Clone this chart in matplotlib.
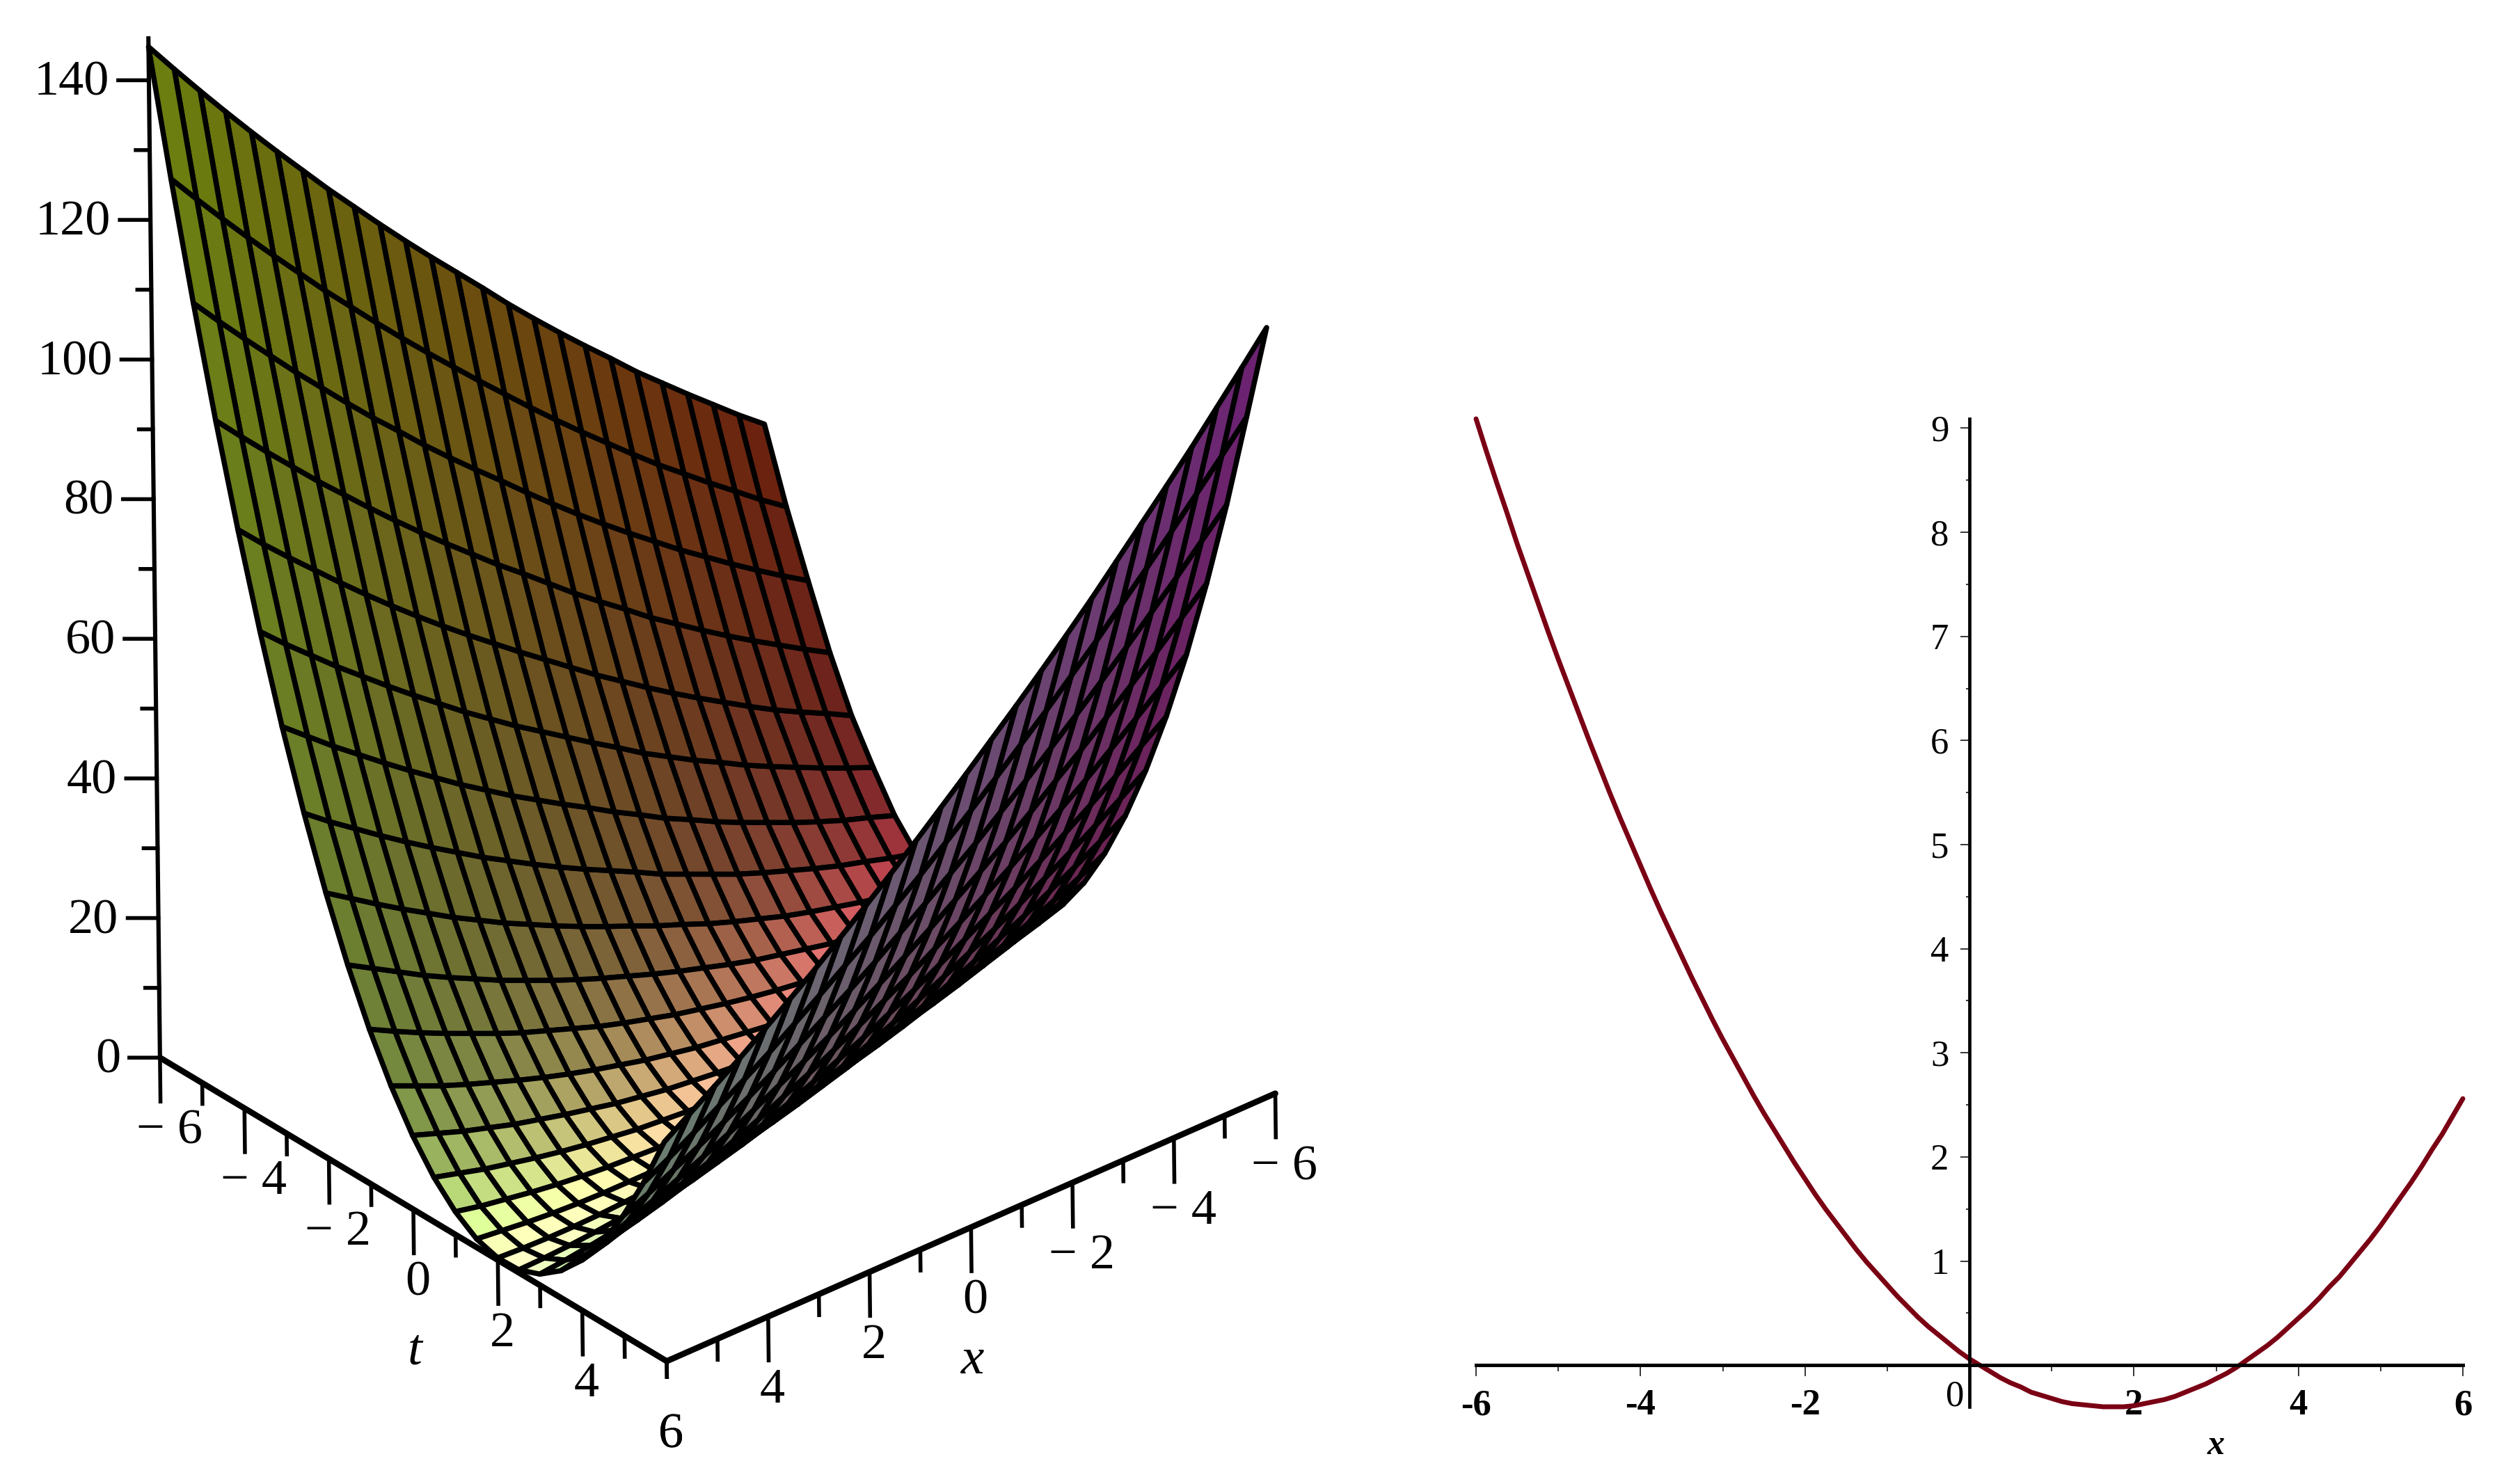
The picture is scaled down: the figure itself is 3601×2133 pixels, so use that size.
import matplotlib
matplotlib.use("Agg")
import matplotlib.pyplot as plt
import numpy as np

# --- surface values (rows: t, columns: x) ---
t_vals = np.arange(-6, 6.5, 0.5)
x_vals = np.arange(-6, 6.5, 0.5)
z_table = [
    [52.4, 55.3, 58.4, 61.5, 64.7, 67.9, 71.4, 74.8, 78.3, 81.9, 85.6, 89.5, 93.3, 97.1, 101.0, 105.0, 109.1, 113.2, 117.5, 121.8, 126.2, 130.7, 135.3, 140.0, 144.8],
    [42.4, 45.0, 47.8, 50.6, 53.5, 56.4, 59.5, 62.7, 65.9, 69.2, 72.6, 76.1, 79.6, 83.2, 86.8, 90.5, 94.3, 98.2, 102.1, 106.2, 110.3, 114.5, 118.8, 123.2, 127.7],
    [33.6, 35.9, 38.3, 40.8, 43.4, 46.0, 48.8, 51.6, 54.5, 57.5, 60.6, 63.8, 67.1, 70.3, 73.6, 77.0, 80.6, 84.1, 87.8, 91.6, 95.4, 99.4, 103.4, 107.5, 111.7],
    [25.1, 27.2, 29.4, 31.6, 33.9, 36.3, 38.8, 41.3, 44.1, 46.8, 49.6, 52.6, 55.6, 58.5, 61.6, 64.7, 67.9, 71.2, 74.6, 78.1, 81.6, 85.3, 89.0, 92.8, 96.7],
    [17.9, 19.8, 21.6, 23.5, 25.6, 27.8, 30.0, 32.3, 34.7, 37.2, 39.7, 42.4, 45.1, 47.8, 50.6, 53.4, 56.3, 59.3, 62.4, 65.6, 68.9, 72.3, 75.7, 79.2, 82.9],
    [12.3, 13.8, 15.4, 17.1, 18.8, 20.6, 22.6, 24.5, 26.6, 28.7, 31.1, 33.4, 35.8, 38.2, 40.6, 43.2, 45.8, 48.6, 51.4, 54.3, 57.3, 60.3, 63.5, 66.7, 70.1],
    [7.2, 8.5, 9.7, 11.1, 12.6, 14.2, 15.8, 17.5, 19.4, 21.2, 23.3, 25.3, 27.5, 29.6, 31.8, 34.0, 36.4, 38.8, 41.4, 44.0, 46.7, 49.5, 52.3, 55.3, 58.3],
    [3.6, 4.5, 5.6, 6.6, 7.8, 9.1, 10.4, 11.8, 13.4, 15.0, 16.6, 18.5, 20.3, 22.1, 24.0, 26.0, 28.1, 30.2, 32.5, 34.8, 37.2, 39.7, 42.3, 44.9, 47.7],
    [1.1, 1.6, 2.4, 3.2, 4.1, 5.0, 6.0, 7.2, 8.4, 9.7, 11.2, 12.6, 14.2, 15.7, 17.3, 19.0, 20.8, 22.6, 24.6, 26.6, 28.8, 31.0, 33.3, 35.7, 38.1],
    [0.1, 0.4, 0.7, 1.2, 1.8, 2.3, 3.1, 3.9, 4.7, 5.7, 6.8, 7.9, 9.1, 10.4, 11.7, 13.1, 14.6, 16.2, 17.8, 19.6, 21.4, 23.3, 25.4, 27.5, 29.6],
    [0.4, 0.3, 0.3, 0.4, 0.6, 0.9, 1.2, 1.7, 2.2, 2.8, 3.5, 4.3, 5.1, 6.1, 7.1, 8.2, 9.5, 10.8, 12.1, 13.6, 15.2, 16.8, 18.5, 20.3, 22.2],
    [0.9, 0.6, 0.3, 0.1, 0.0, 0.0, 0.0, 0.2, 0.4, 0.7, 1.2, 1.7, 2.2, 2.9, 3.6, 4.5, 5.4, 6.4, 7.5, 8.7, 10.0, 11.3, 12.7, 14.3, 15.9],
    [2.6, 1.9, 1.3, 0.9, 0.5, 0.2, -0.1, -0.2, -0.3, -0.2, -0.1, 0.1, 0.4, 0.8, 1.2, 1.8, 2.4, 3.2, 4.0, 4.9, 5.8, 6.9, 8.0, 9.3, 10.6],
    [5.2, 4.3, 3.5, 2.7, 2.0, 1.4, 0.9, 0.5, 0.1, -0.1, -0.3, -0.4, -0.4, -0.3, -0.1, 0.2, 0.5, 1.0, 1.5, 2.1, 2.8, 3.6, 4.4, 5.4, 6.4],
    [9.0, 7.8, 6.7, 5.6, 4.6, 3.8, 3.0, 2.2, 1.6, 1.1, 0.6, 0.3, 0.0, -0.2, -0.3, -0.4, -0.3, -0.1, 0.1, 0.4, 0.8, 1.3, 1.9, 2.5, 3.3],
    [13.9, 12.4, 11.0, 9.6, 8.4, 7.2, 6.1, 5.1, 4.2, 3.4, 2.6, 2.0, 1.4, 0.9, 0.5, 0.2, 0.0, -0.2, -0.2, -0.2, -0.1, 0.1, 0.4, 0.8, 1.2],
    [19.9, 18.1, 16.4, 14.8, 13.2, 11.8, 10.4, 9.1, 7.9, 6.8, 5.8, 4.8, 3.9, 3.2, 2.5, 1.9, 1.4, 0.9, 0.6, 0.3, 0.1, 0.0, 0.0, 0.1, 0.3],
    [27.1, 25.0, 23.0, 21.1, 19.2, 17.5, 15.8, 14.2, 12.7, 11.3, 10.0, 8.7, 7.6, 6.5, 5.5, 4.6, 3.8, 3.1, 2.5, 1.9, 1.4, 1.0, 0.7, 0.5, 0.4],
    [35.4, 33.0, 30.7, 28.5, 26.4, 24.3, 22.3, 20.5, 18.7, 17.0, 15.3, 13.8, 12.3, 11.0, 9.7, 8.5, 7.4, 6.4, 5.4, 4.6, 3.8, 3.1, 2.5, 2.0, 1.6],
    [44.9, 42.3, 39.6, 37.1, 34.7, 32.3, 30.0, 27.9, 25.8, 23.8, 21.8, 20.0, 18.2, 16.6, 15.0, 13.5, 12.1, 10.8, 9.5, 8.4, 7.3, 6.3, 5.4, 4.6, 3.9],
    [55.6, 52.6, 49.7, 46.9, 44.1, 41.5, 38.9, 36.4, 34.0, 31.7, 29.5, 27.3, 25.3, 23.3, 21.4, 19.6, 17.9, 16.2, 14.7, 13.2, 11.9, 10.6, 9.4, 8.2, 7.2],
    [67.6, 64.3, 61.0, 57.9, 54.8, 51.8, 49.0, 46.1, 43.4, 40.8, 38.3, 35.8, 33.4, 31.1, 28.9, 26.8, 24.8, 22.9, 21.0, 19.2, 17.5, 15.9, 14.4, 13.0, 11.6],
    [80.7, 77.1, 73.5, 70.1, 66.7, 63.4, 60.2, 57.1, 54.0, 51.1, 48.2, 45.5, 42.8, 40.2, 37.6, 35.2, 32.9, 30.6, 28.4, 26.3, 24.3, 22.4, 20.6, 18.8, 17.2],
    [95.1, 91.1, 87.3, 83.5, 79.8, 76.2, 72.6, 69.2, 65.8, 62.6, 59.4, 56.3, 53.3, 50.3, 47.5, 44.7, 42.1, 39.5, 37.0, 34.5, 32.2, 30.0, 27.8, 25.7, 23.8],
    [109.7, 105.5, 101.4, 97.3, 93.4, 89.6, 85.8, 82.0, 78.4, 74.9, 71.5, 68.2, 64.9, 61.7, 58.5, 55.4, 52.4, 49.5, 46.6, 43.9, 41.2, 38.6, 36.2, 33.8, 31.4],
]

# --- curve ---
curve_x = np.arange(-6, 6.125, 0.125)
curve_y = [
    9.09, 8.78, 8.48, 8.19, 7.89, 7.61, 7.33, 7.05, 6.78, 6.52, 6.26, 6.00, 5.75, 5.50, 5.26, 5.03,
    4.80, 4.57, 4.35, 4.14, 3.93, 3.72, 3.52, 3.32, 3.13, 2.95, 2.77, 2.59, 2.42, 2.26, 2.10, 1.94,
    1.79, 1.64, 1.50, 1.37, 1.24, 1.11, 0.99, 0.88, 0.77, 0.66, 0.56, 0.46, 0.37, 0.29, 0.21, 0.13,
    0.06, 0.00, -0.06, -0.12, -0.17, -0.21, -0.26, -0.29, -0.32, -0.35, -0.37, -0.38, -0.39, -0.40,
    -0.40, -0.40, -0.39, -0.37, -0.35, -0.33, -0.30, -0.26, -0.22, -0.18, -0.13, -0.08, -0.02, 0.05,
    0.12, 0.19, 0.27, 0.36, 0.45, 0.54, 0.64, 0.75, 0.85, 0.97, 1.09, 1.21, 1.34, 1.48, 1.62, 1.76,
    1.91, 2.07, 2.22, 2.39, 2.56,
]

W, H = 3601, 2133
SERIF = "Liberation Serif"
BLACK = "black"

fig = plt.figure(figsize=(W / 100, H / 100), dpi=100, facecolor="white")

# --- left panel: orthographic 3D axes ---
side = 2275.5
ax = fig.add_axes([-145.6 / W, 151.1 / H, side / W, side / H], projection="3d",
                  computed_zorder=False)
ax.set_proj_type("ortho")
ax.view_init(elev=30.8, azim=-39.8, roll=0.65)
ax.set_box_aspect((1130, 1144, 1706))
ax.set_xlim(-6, 6, view_margin=0)
ax.set_ylim(6, -6, view_margin=0)
ax.set_zlim(0, 146, view_margin=0)
ax.set_axis_off()
ax.patch.set_alpha(0)

Z = np.array(z_table)
T, X = np.meshgrid(t_vals, x_vals, indexing="ij")

# colour of each cell: position tint, brightened where the upper side faces the light
dz_dt, dz_dx = np.gradient(Z, 0.5, 0.5)
cell = lambda a: 0.25 * (a[:-1, :-1] + a[1:, :-1] + a[:-1, 1:] + a[1:, 1:])
ct, cx, gt, gx = cell(T), cell(X), cell(dz_dt), cell(dz_dx)
slope = 0.125 * np.hypot(gt, gx)
upper = 0.16 * gt + 0.132 * gx < 1
gain = 1 + 1.4 * np.exp(-(slope / 0.96) ** 2) * upper
rgb = np.dstack([
    0.42 * np.ones_like(ct),
    0.13 + 0.37 * (cx + 6) / 12,
    0.05 + 0.40 * (ct + 6) / 12,
]) * gain[..., None]
rgb = np.clip(rgb, 0, 1)
rgb = np.pad(rgb, ((0, 1), (0, 1), (0, 0)), mode="edge")

ax.plot_surface(T, X, Z, facecolors=rgb, rstride=1, cstride=1, shade=False,
                edgecolor=BLACK, linewidth=5.4, antialiased=True, zorder=3)

# pixel to data steps along the screen
PX_T, PX_X, PX_Z = 0.00699, -0.00791, 1 / 10.03
AXIS_LW, TICK_LW = 6.2, 4.0
FS = 52

ax.plot([-6, 6], [6, 6], [0, 0], color=BLACK, lw=AXIS_LW, zorder=1, solid_capstyle="round")
ax.plot([6, 6], [6, -6], [0, 0], color=BLACK, lw=AXIS_LW, zorder=1, solid_capstyle="round")
ax.plot([-6, -6], [6, 6], [0, 146], color=BLACK, lw=4.4, zorder=1)

for v in range(-6, 7):
    major = v % 2 == 0
    length = (63 if major else 30) * PX_Z
    ax.plot([v, v], [6, 6], [0, -length], color=BLACK, lw=TICK_LW, zorder=1)
    ax.plot([6, 6], [v, v], [0, -length], color=BLACK, lw=TICK_LW, zorder=1)
    if major:
        shift = 12 if v < 0 else 5
        label = f"\u2212 {-v}" if v < 0 else str(v)
        ax.text(v + shift * PX_T, 6 + shift * PX_X, -106 * PX_Z, label, ha="center", va="center",
                family=SERIF, fontsize=FS, zorder=4)
        ax.text(6 + shift * PX_T, v + shift * PX_X, -106 * PX_Z, label, ha="center", va="center",
                family=SERIF, fontsize=FS, zorder=4)

for v in range(0, 150, 10):
    major = v % 20 == 0
    length = 44 if major else 20
    ax.plot([-6, -6 - length * PX_T], [6, 6 - length * PX_X], [v, v], color=BLACK, lw=TICK_LW,
            zorder=1)
    if major:
        ax.text(-6 - 57 * PX_T, 6 - 57 * PX_X, v - 4 * PX_Z, str(v), ha="right", va="center",
                family=SERIF, fontsize=FS, zorder=4)

ax.text(0, 6, -204 * PX_Z, "t", ha="center", va="center", family=SERIF, style="italic",
        fontsize=FS + 2, zorder=4)
ax.text(6, 0, -192 * PX_Z, "x", ha="center", va="center", family=SERIF, style="italic",
        fontsize=FS + 2, zorder=4)

# --- right panel: cartesian curve ---
left, right, top, bottom = 2121, 3539, 602, 2022
ax2 = fig.add_axes([left / W, (H - bottom) / H, (right - left) / W, (bottom - top) / H])
ax2.plot(curve_x, curve_y, color="#7a0014", lw=5.0, clip_on=False, solid_capstyle="round")
ax2.set_xlim(-6, 6)
ax2.set_ylim(-0.4, 9.09)
ax2.patch.set_alpha(0)
for name in ("top", "right"):
    ax2.spines[name].set_visible(False)
ax2.spines["left"].set_position(("data", 0))
ax2.spines["bottom"].set_position(("data", 0))
ax2.spines["left"].set_linewidth(3.4)
ax2.spines["bottom"].set_linewidth(3.6)

ax2.set_xticks([-6, -4, -2, 2, 4, 6])
ax2.set_xticklabels(["-6", "-4", "-2", "2", "4", "6"], family=SERIF, fontsize=38, weight="bold")
ax2.set_xticks([-5, -3, -1, 0, 1, 3, 5], minor=True)
ax2.set_yticks(range(1, 10))
ax2.set_yticklabels([str(v) for v in range(1, 10)], family=SERIF, fontsize=38)
ax2.set_yticks(np.arange(0.5, 9, 1), minor=True)
ax2.tick_params(axis="x", which="major", length=11.5, width=1.1, pad=13)
ax2.tick_params(axis="x", which="minor", length=6.5, width=1.1)
ax2.tick_params(axis="y", which="major", length=9.4, width=1.1, pad=12)
ax2.tick_params(axis="y", which="minor", length=3.6, width=1.1)
ax2.text(-0.18, -0.3, "0", ha="center", va="center", family=SERIF, fontsize=38)
ax2.text(3.0, -0.775, "x", ha="center", va="center", family=SERIF, style="italic",
         weight="bold", fontsize=36, clip_on=False)

fig.savefig("out.png", dpi=100)
